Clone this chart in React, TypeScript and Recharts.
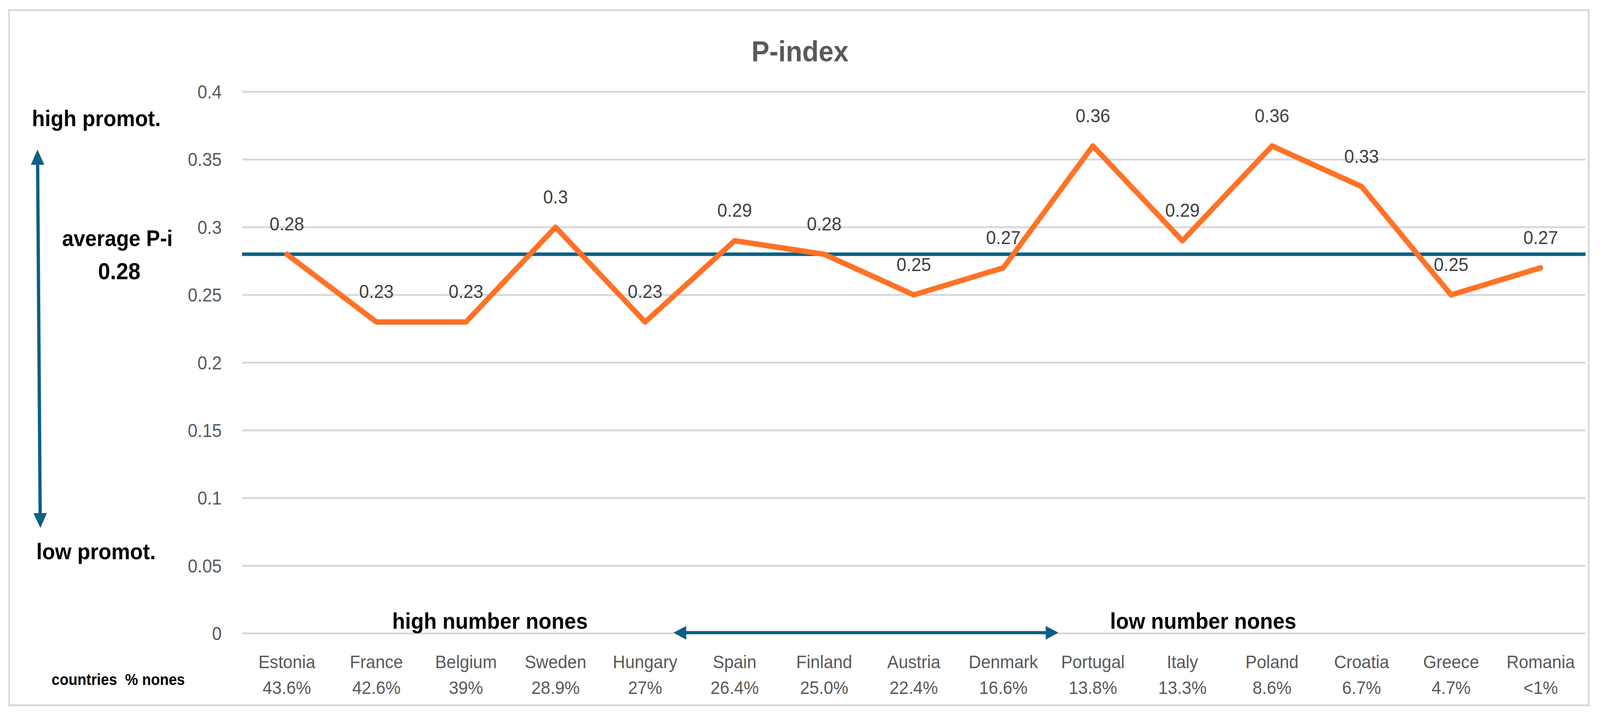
import React from 'react';
import { LineChart, Line, XAxis, YAxis, CartesianGrid, ReferenceLine } from 'recharts';

const countries = ['Estonia', 'France', 'Belgium', 'Sweden', 'Hungary', 'Spain', 'Finland', 'Austria', 'Denmark', 'Portugal', 'Italy', 'Poland', 'Croatia', 'Greece', 'Romania'];
const nonesPct = ['43.6%', '42.6%', '39%', '28.9%', '27%', '26.4%', '25.0%', '22.4%', '16.6%', '13.8%', '13.3%', '8.6%', '6.7%', '4.7%', '<1%'];
const pIndex = [0.28, 0.23, 0.23, 0.3, 0.23, 0.29, 0.28, 0.25, 0.27, 0.36, 0.29, 0.36, 0.33, 0.25, 0.27];
const averagePIndex = 0.28;
const yTicks = [0, 0.05, 0.1, 0.15, 0.2, 0.25, 0.3, 0.35, 0.4];

const data = countries.map((c, i) => ({ country: c, pct: nonesPct[i], p: pIndex[i] }));

const W = 4402;
const H = 1836;
const FONT = '"Liberation Sans", Arial, sans-serif';
const BLUE = '#0B5F84';
const ORANGE = '#FF7226';

const XTick = (props: any) => {
  const { x, y, payload, index } = props;
  return (
    <g transform={`translate(${x},${y})`}>
      <text x={0} y={89} textAnchor="middle" fill="#595959" fontSize={47} fontFamily={FONT}>
        {payload.value}
      </text>
      <text x={0} y={155} textAnchor="middle" fill="#595959" fontSize={47} fontFamily={FONT}>
        {nonesPct[index]}
      </text>
    </g>
  );
};

const PointLabel = (props: any) => {
  const { x, y, value } = props;
  return (
    <text x={x} y={y - 61} textAnchor="middle" fill="#404040" fontSize={49} fontFamily={FONT}>
      {String(value)}
    </text>
  );
};

export default function App() {
  const vw = typeof window !== 'undefined' && window.innerWidth ? window.innerWidth : W;
  const vh = typeof window !== 'undefined' && window.innerHeight ? window.innerHeight : H;
  const sx = Math.min(1, vw / W);
  const sy = Math.min(1, vh / H);
  return (
    <div style={{ position: 'absolute', left: 0, top: 0, width: W * sx, height: H * sy, overflow: 'hidden', background: '#fff' }}>
      <div style={{ position: 'absolute', left: 0, top: 0, width: W, height: H, transform: `scale(${sx}, ${sy})`, transformOrigin: '0 0' }}>
        <LineChart width={W} height={H} data={data} margin={{ top: 235, right: 40, bottom: 0, left: 0 }}>
          <CartesianGrid horizontal vertical={false} stroke="#d9d9d9" strokeWidth={5} />
          <XAxis
            dataKey="country"
            scale="band"
            height={214}
            axisLine={false}
            tickLine={false}
            tickSize={0}
            tickMargin={0}
            interval={0}
            tick={<XTick />}
          />
          <YAxis
            domain={[0, 0.4]}
            ticks={yTicks}
            width={666}
            axisLine={false}
            tickLine={false}
            tickSize={0}
            tickMargin={56}
            interval={0}
            tick={{ fill: '#595959', fontSize: 48, fontFamily: FONT }}
            tickFormatter={(v: number) => String(v)}
          />
          <ReferenceLine y={averagePIndex} stroke={BLUE} strokeWidth={9} ifOverflow="extendDomain" />
          <Line
            type="linear"
            dataKey="p"
            stroke={ORANGE}
            strokeWidth={14}
            strokeLinejoin="round"
            strokeLinecap="round"
            dot={false}
            activeDot={false}
            isAnimationActive={false}
            label={<PointLabel />}
          />
        </LineChart>
        <svg width={W} height={H} style={{ position: 'absolute', left: 0, top: 0, pointerEvents: 'none' }}>
          <rect x={25} y={26} width={4346} height={1780} fill="none" stroke="#d9d9d9" strokeWidth={5} />
          <text x={2201} y={157} textAnchor="middle" fill="#595959" fontSize={74} fontWeight="bold" fontFamily={FONT}>
            P-index
          </text>
          <g fill="#000" fontWeight="bold" fontFamily={FONT}>
            <text x={88} y={323} fontSize={58}>high promot.</text>
            <text x={323} y={630} fontSize={57} textAnchor="middle">average P-i</text>
            <text x={328} y={715} fontSize={60} textAnchor="middle">0.28</text>
            <text x={100} y={1432} fontSize={58}>low promot.</text>
            <text x={142} y={1754} fontSize={40} style={{ whiteSpace: 'pre' }}>{'countries  % nones'}</text>
            <text x={1079} y={1610} fontSize={58}>high number nones</text>
            <text x={3054} y={1610} fontSize={58}>low number nones</text>
          </g>
          <g fill={BLUE} stroke="none">
            <line x1={103.5} y1={418} x2={110.5} y2={1318} stroke={BLUE} strokeWidth={9} />
            <polygon points="103,383 85,422 122,422" />
            <polygon points="111,1352 92,1314 129,1314" />
            <line x1={1884} y1={1620} x2={2880} y2={1620} stroke={BLUE} strokeWidth={8} />
            <polygon points="1853,1620 1888,1603 1888,1638" />
            <polygon points="2912,1620 2877,1603 2877,1638" />
          </g>
        </svg>
      </div>
    </div>
  );
}
